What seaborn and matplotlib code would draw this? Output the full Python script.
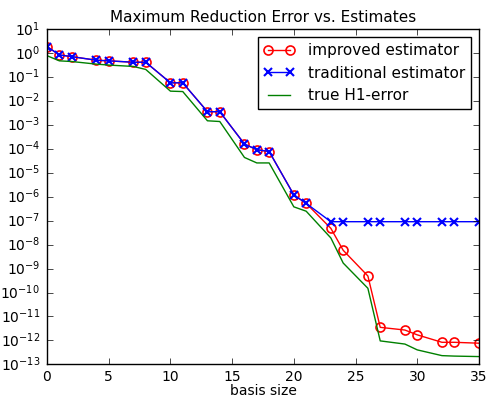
import matplotlib
matplotlib.use("Agg")
import matplotlib.pyplot as plt
import matplotlib.ticker as mticker
import seaborn as sns
import numpy as np

basis_size = [0, 1, 2, 4, 5, 7, 8, 10, 11, 13, 14, 16, 17, 18, 20, 21, 23, 24, 26, 27, 29, 30, 32, 33, 35]

improved = [1.9, 0.85, 0.72, 0.51, 0.48, 0.42, 0.42, 0.058, 0.058, 3.6e-3, 3.6e-3,
            1.6e-4, 9.3e-5, 7.8e-5, 1.2e-6, 5.3e-7, 4.8e-8, 5.8e-9, 4.9e-10,
            3.5e-12, 2.7e-12, 1.7e-12, 8.3e-13, 8.3e-13, 7.6e-13]

traditional = [1.9, 0.85, 0.72, 0.51, 0.48, 0.42, 0.42, 0.058, 0.058, 3.6e-3, 3.6e-3,
               1.6e-4, 9.3e-5, 7.8e-5, 1.2e-6, 5.3e-7, 9.1e-8, 9.1e-8, 9.1e-8,
               9.1e-8, 9.1e-8, 9.1e-8, 9.1e-8, 9.1e-8, 9.1e-8]

true_error = [0.79, 0.48, 0.45, 0.35, 0.32, 0.28, 0.21, 0.026, 0.025, 1.5e-3, 1.4e-3,
              4.4e-5, 2.6e-5, 2.6e-5, 3.8e-7, 2.5e-7, 1.9e-8, 1.7e-9, 1.5e-10,
              9.5e-13, 7.0e-13, 4.0e-13, 2.3e-13, 2.2e-13, 2.1e-13]

labels = ["improved estimator", "traditional estimator", "true H1-error"]
title = "Maximum Reduction Error vs. Estimates"
xlabel = "basis size"

plt.style.use("classic")
plt.rcParams["mathtext.fontset"] = "dejavusans"
plt.rcParams["font.family"] = ["DejaVu Sans"]

fig = plt.figure(figsize=(4.87, 3.98), dpi=100, facecolor="white")
ax = fig.add_axes([0.0965, 0.0847, 0.887, 0.8417])
ax.set_facecolor("white")

sns.lineplot(x=basis_size, y=improved, ax=ax, color="red", marker="o",
             markersize=6.5, markerfacecolor="none", markeredgecolor="red",
             markeredgewidth=1.2, linewidth=1.0, label=labels[0], estimator=None,
             sort=False)
sns.lineplot(x=basis_size, y=traditional, ax=ax, color="blue", marker="x",
             markersize=6, markeredgecolor="blue", markeredgewidth=1.5,
             linewidth=1.0, label=labels[1], estimator=None, sort=False)
sns.lineplot(x=basis_size, y=true_error, ax=ax, color="green", linewidth=1.0,
             label=labels[2], estimator=None, sort=False)

ax.set_yscale("log")
ax.set_ylim(1e-13, 1e1)
ax.set_xlim(0, 35)
ax.yaxis.set_major_locator(mticker.LogLocator(base=10, numticks=20))
ax.yaxis.set_minor_locator(mticker.NullLocator())
ax.set_xticks([0, 5, 10, 15, 20, 25, 30, 35])
ax.set_title(title, fontsize=11, pad=5)
ax.set_xlabel(xlabel, fontsize=10, labelpad=0)
ax.tick_params(axis="x", labelsize=10, pad=4)
ax.tick_params(axis="y", labelsize=10, pad=5)
ax.set_ylabel("")

leg = ax.legend(loc="upper right", numpoints=2, fontsize=11, frameon=True,
                borderaxespad=0.5, handletextpad=0.9)

fig.savefig("out.png", dpi=100, facecolor="white")
